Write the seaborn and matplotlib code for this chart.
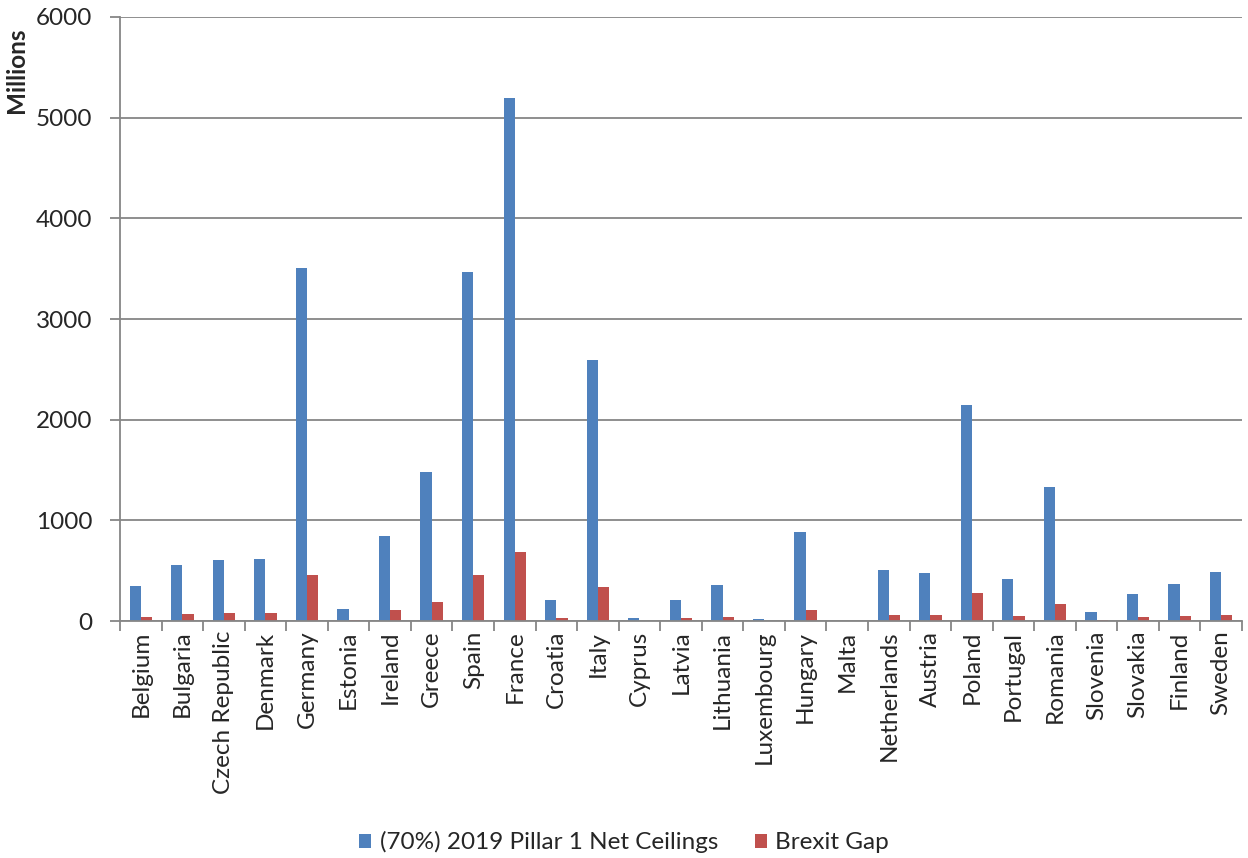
import numpy as np
import pandas as pd
import matplotlib
matplotlib.use("Agg")
import matplotlib.pyplot as plt
import seaborn as sns
from matplotlib.patches import Patch

countries = ["Belgium", "Bulgaria", "Czech Republic", "Denmark", "Germany", "Estonia",
             "Ireland", "Greece", "Spain", "France", "Croatia", "Italy", "Cyprus",
             "Latvia", "Lithuania", "Luxembourg", "Hungary", "Malta", "Netherlands",
             "Austria", "Poland", "Portugal", "Romania", "Slovenia", "Slovakia",
             "Finland", "Sweden"]
ceilings = [347, 557, 607, 617, 3505, 117, 847, 1480, 3466, 5194, 210, 2592, 30,
            210, 357, 17, 887, 5, 507, 480, 2145, 417, 1335, 87, 273, 367, 487]
brexit_gap = [43, 67, 77, 77, 460, 10, 107, 193, 457, 687, 30, 337, 2,
              27, 43, 2, 113, 1, 63, 57, 277, 53, 170, 7, 37, 47, 63]
series_names = ["(70%) 2019 Pillar 1 Net Ceilings", "Brexit Gap"]
y_ticks = [0, 1000, 2000, 3000, 4000, 5000, 6000]
y_label = "Millions"

df = pd.DataFrame({
    "country": countries * 2,
    "value": ceilings + brexit_gap,
    "series": [series_names[0]] * len(countries) + [series_names[1]] * len(countries),
})

sns.set_theme(style="white")
plt.rcParams['font.family'] = ['Lato', 'DejaVu Sans']

FS = 17.5
colors = ["#4F81BD", "#C0504D"]
fig = plt.figure(figsize=(12.48, 8.58), dpi=100)
ax = fig.add_axes([0.0962, 0.2762, 0.899, 0.7040])

sns.barplot(data=df, x="country", y="value", hue="series", palette=colors,
            width=0.54, gap=0, ax=ax, legend=False, saturation=1,
            linewidth=0)

n = len(countries)
ax.set_xlim(-0.5, n - 0.5)
ax.set_ylim(0, 6000)
ax.set_yticks(y_ticks)
ax.set_yticklabels([str(t) for t in y_ticks], fontsize=FS)
ax.yaxis.grid(True, color="#868686", linewidth=1.3)
ax.set_axisbelow(True)

ax.set_xticks(range(n))
ax.set_xticklabels(countries, rotation=90, fontsize=FS)
ax.set_xticks(np.arange(-0.5, n, 1), minor=True)
ax.tick_params(axis="x", which="major", length=0, pad=7)
ax.tick_params(axis="x", which="minor", length=7, width=1.3, color="#868686", direction="out", bottom=True)
ax.tick_params(axis="y", length=7, width=1.3, color="#868686", direction="out", left=True, pad=13)

for side in ["top", "right"]:
    ax.spines[side].set_visible(False)
for side in ["left", "bottom"]:
    ax.spines[side].set_color("#868686")
    ax.spines[side].set_linewidth(1.3)

ax.set_xlabel("")
ax.set_ylabel(y_label, fontsize=FS, fontweight="bold", labelpad=2)
ax.yaxis.set_label_coords(-0.082, 0.912)

handles = [Patch(facecolor=c, edgecolor="none") for c in colors]
fig.legend(handles, series_names, loc="lower center", bbox_to_anchor=(0.5, -0.02),
           ncol=2, frameon=False, fontsize=FS, handlelength=0.5, handleheight=0.5,
           columnspacing=1.5, handletextpad=0.35)

fig.savefig("out.png", dpi=100)
